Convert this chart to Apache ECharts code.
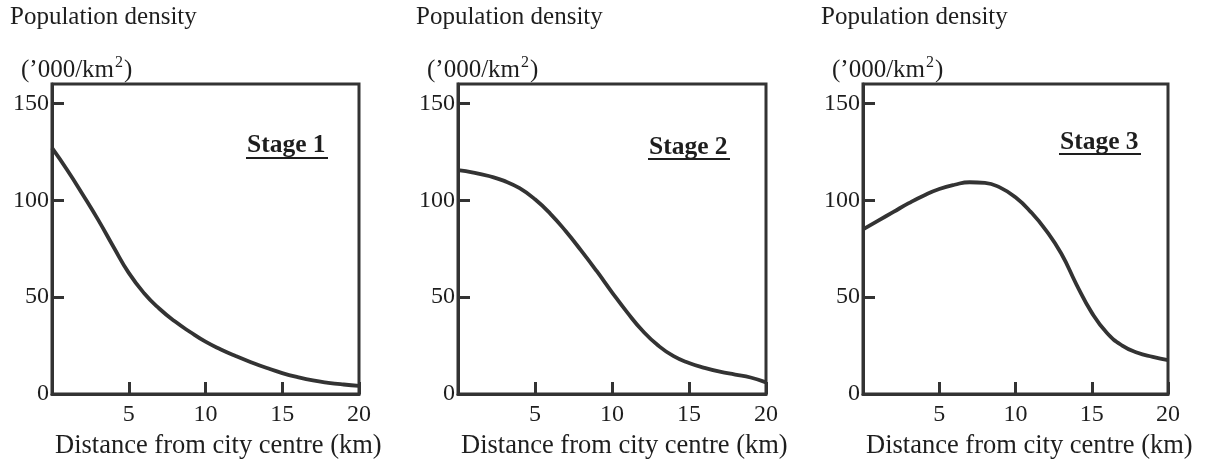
<!DOCTYPE html>
<html>
<head>
<meta charset="utf-8">
<script src="https://cdn.jsdelivr.net/npm/echarts@6/dist/echarts.min.js"></script>
<style>
html,body{margin:0;padding:0;background:#fff;}
#chart{width:1207px;height:466px;}
</style>
</head>
<body>
<div id="chart"></div>
<script>
// Distance from city centre (km)
const distances = [0,1,2,3,4,5,6,7,8,9,10,11,12,13,14,15,16,17,18,19,20];
// Population density ('000/km2)
const stage1 = [127,115.5,103,90,76,62.5,52,44,37.5,32,27,23,19.5,16.3,13.4,10.8,8.7,7,5.8,4.9,4.2];
const stage2 = [115.5,114.3,112.5,110,106.2,100.5,93,84,74,63.5,52.5,42,32.5,25,19.5,16,13.5,11.5,10,8.5,6];
const stage3 = [85,89.5,94,98.5,102.5,105.8,108,109.3,109,106.5,101.5,94,84.5,72.5,56.5,42,31.5,25,21.3,19.2,17.5];
const stageNames = ['Stage 1','Stage 2','Stage 3'];
const yTitle = 'Population density';
const yUnitMain = "(\u2019000/km";
const yUnitSup = "2";
const xTitle = 'Distance from city centre (km)';
const yTickValues = [0,50,100,150];
const xTickValues = [5,10,15,20];

const seriesValues = [stage1, stage2, stage3];
const gridLefts = [52, 458, 863];
const gridWidths = [307, 308, 305];
const gridTop = 84, gridHeight = 310;
const stageLeft = [247, 649, 1060];
const stageTop = [132, 134, 129];
const stageUnderlineY = [158, 159, 154];

const FONT = "'Liberation Serif', 'Times New Roman', serif";
const INK = '#1e1e1e';
const LINE = '#333333';

const chart = echarts.init(document.getElementById('chart'), null, {renderer:'canvas'});

const grids = [], xAxes = [], yAxes = [], series = [], titles = [], graphics = [];
for (let i = 0; i < 3; i++) {
  grids.push({left: gridLefts[i], top: gridTop, width: gridWidths[i], height: gridHeight,
    show: true, borderColor: LINE, borderWidth: 3, backgroundColor: 'transparent', containLabel: false});
  xAxes.push({type:'value', gridIndex:i, min:0, max:20, interval:5,
    axisLine:{show:true, onZero:false, lineStyle:{color:LINE, width:3}},
    axisTick:{show:true, inside:true, length:12, lineStyle:{color:LINE, width:3}},
    axisLabel:{showMinLabel:false, margin:9, fontFamily:FONT, fontSize:24, color:INK,
      formatter: v => xTickValues.indexOf(v) >= 0 ? String(v) : ''},
    splitLine:{show:false}});
  yAxes.push({type:'value', gridIndex:i, min:0, max:160, interval:50,
    axisLine:{show:true, onZero:false, lineStyle:{color:LINE, width:3}},
    axisTick:{show:true, inside:true, length:12, lineStyle:{color:LINE, width:3}},
    axisLabel:{showMaxLabel:false, margin:3, fontFamily:FONT, fontSize:24, color:INK,
      formatter: v => yTickValues.indexOf(v) >= 0 ? String(v) : ''},
    splitLine:{show:false}});
  series.push({type:'line', xAxisIndex:i, yAxisIndex:i, smooth:0.5, showSymbol:false,
    data: distances.map((d, k) => [d, seriesValues[i][k]]),
    lineStyle:{color:LINE, width:3.8}, silent:true});
  titles.push({text: yTitle, left: gridLefts[i] - 42, top: 5, padding:0,
    textStyle:{fontFamily:FONT, fontSize:25, fontWeight:'normal', color:INK}});
  titles.push({text: '{a|' + yUnitMain + '}{s|' + yUnitSup + '}{a|)}', left: gridLefts[i] - 31, top: 55, padding:0,
    textStyle:{fontFamily:FONT, fontSize:25, fontWeight:'normal', color:INK,
      rich:{
        a:{fontFamily:FONT, fontSize:25, color:INK, lineHeight:28, verticalAlign:'bottom'},
        s:{fontFamily:FONT, fontSize:16, color:INK, lineHeight:28, verticalAlign:'top', padding:[0,1,0,1]}
      }}});
  titles.push({text: xTitle, left: gridLefts[i] + 3, top: 433, padding:0,
    textStyle:{fontFamily:FONT, fontSize:26.5, fontWeight:'normal', color:INK}});
  titles.push({text: stageNames[i], left: stageLeft[i], top: stageTop[i], padding:0,
    textStyle:{fontFamily:FONT, fontSize:25.5, fontWeight:'bold', color:INK}});
  graphics.push({type:'line', shape:{x1: stageLeft[i] - 1, y1: stageUnderlineY[i], x2: stageLeft[i] + 81, y2: stageUnderlineY[i]},
    style:{stroke: INK, lineWidth: 2}, silent:true});
}

chart.setOption({
  animation:false,
  backgroundColor:'#ffffff',
  title: titles,
  grid: grids,
  xAxis: xAxes,
  yAxis: yAxes,
  series: series,
  graphic: graphics
});
</script>
</body>
</html>
